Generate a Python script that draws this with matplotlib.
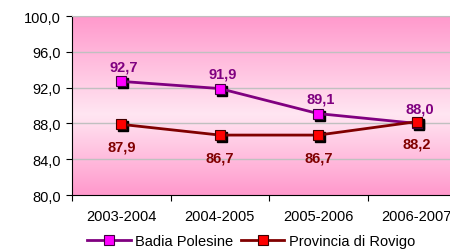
import numpy as np
import matplotlib
matplotlib.use("Agg")
import matplotlib.pyplot as plt
from matplotlib import transforms
from matplotlib.colors import LinearSegmentedColormap

plt.rcParams['font.family'] = ['Liberation Sans', 'DejaVu Sans']

categories = ['2003-2004', '2004-2005', '2005-2006', '2006-2007']
badia = [92.7, 91.9, 89.1, 88.0]
rovigo = [87.9, 86.7, 86.7, 88.2]
series_names = ['Badia Polesine', 'Provincia di Rovigo']
yticks = [80, 84, 88, 92, 96, 100]

fig = plt.figure(figsize=(4.5, 2.51), dpi=100)
ax = fig.add_axes([0.16, 0.219, 0.8756, 0.713])

# pink gradient background
cmap = LinearSegmentedColormap.from_list(
    'bg', [(0, '#FF99CC'), (0.55, '#FFE6F2'), (1, '#FF99CC')])
grad = np.linspace(0, 1, 256).reshape(-1, 1)
ax.imshow(grad, cmap=cmap, aspect='auto', extent=[0, 1, 0, 1],
          transform=ax.transAxes, zorder=0)

x = np.arange(len(categories))
ax.set_xlim(-0.5, len(categories) - 0.5)
ax.set_ylim(80, 100)

for y in yticks[1:]:
    ax.axhline(y, color='#C0C0C0', lw=1, zorder=1)

shadow = transforms.offset_copy(ax.transData, fig, x=2, y=-2, units='dots')
for vals in (badia, rovigo):
    ax.plot(x, vals, 's', ms=7.5, color='black', mec='black',
            transform=shadow, zorder=2)

ax.plot(x, badia, '-s', color='#800080', lw=2, ms=7.5, mfc='#FF00FF',
        mec='#400040', mew=0.8, zorder=3, label=series_names[0])
ax.plot(x, rovigo, '-s', color='#800000', lw=2, ms=7.5, mfc='#FF0000',
        mec='#400000', mew=0.8, zorder=3, label=series_names[1])

for xi, v in zip(x, badia):
    ax.annotate(f'{v:.1f}'.replace('.', ','), (xi, v), xytext=(2, 6),
                textcoords='offset points', ha='center', va='bottom',
                fontsize=10.5, fontweight='bold', color='#800080')
for xi, v in zip(x, rovigo):
    ax.annotate(f'{v:.1f}'.replace('.', ','), (xi, v), xytext=(0, -11),
                textcoords='offset points', ha='center', va='top',
                fontsize=10.5, fontweight='bold', color='#800000')

ax.set_yticks(yticks)
ax.set_yticklabels([f'{v:.1f}'.replace('.', ',') for v in yticks], fontsize=10.5)
ax.tick_params(axis='y', direction='out', length=4, pad=4)

ax.set_xticks(np.arange(-0.5, len(categories), 1))
ax.set_xticklabels([])
ax.set_xticks(x, minor=True)
ax.set_xticklabels(categories, minor=True, fontsize=10.5)
ax.tick_params(axis='x', which='major', direction='out', length=4)
ax.tick_params(axis='x', which='minor', length=0, pad=10)

ax.spines['top'].set_color('#C0C0C0')
ax.spines['right'].set_visible(False)

fig.legend(loc='center', bbox_to_anchor=(0.558, 0.036), ncol=2, frameon=False,
           fontsize=10.5, handlelength=3, handletextpad=0.3, columnspacing=0.5,
           borderaxespad=0, borderpad=0)

fig.savefig('out.png', dpi=100)
